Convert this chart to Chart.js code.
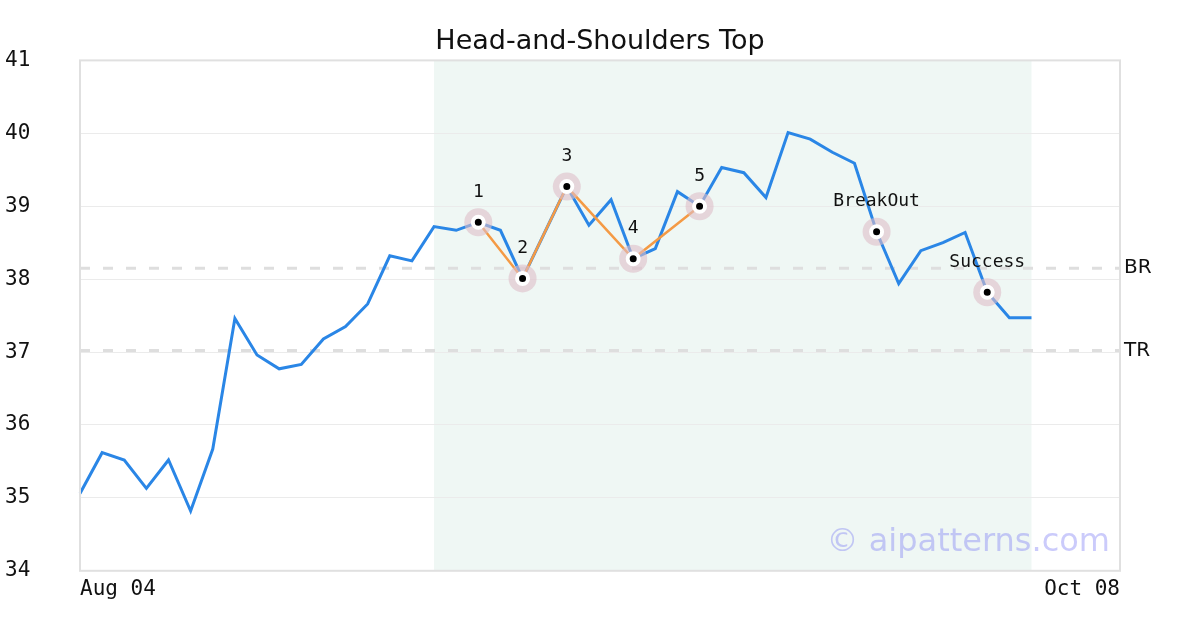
<!DOCTYPE html>
<html>
<head>
<meta charset="utf-8">
<script src="https://cdn.jsdelivr.net/npm/chart.js@4.4.1/dist/chart.umd.min.js"></script>
<style>
  html, body { margin: 0; padding: 0; background: #ffffff; }
  #wrap { width: 1200px; height: 630px; }
</style>
</head>
<body>
<div id="wrap"><canvas id="c" width="1200" height="630"></canvas></div>
<script>
// ---- data ----
const dates = [
  'Aug 04','Aug 05','Aug 06','Aug 07','Aug 08','Aug 11','Aug 12','Aug 13','Aug 14','Aug 15',
  'Aug 18','Aug 19','Aug 20','Aug 21','Aug 22','Aug 25','Aug 26','Aug 27','Aug 28','Aug 29',
  'Sep 01','Sep 02','Sep 03','Sep 04','Sep 05','Sep 08','Sep 09','Sep 10','Sep 11','Sep 12',
  'Sep 15','Sep 16','Sep 17','Sep 18','Sep 19','Sep 22','Sep 23','Sep 24','Sep 25','Sep 26',
  'Sep 29','Sep 30','Oct 01','Oct 02','Oct 03','Oct 06','Oct 07','Oct 08'
];
const prices = [
  35.06, 35.62, 35.52, 35.13, 35.52, 34.82, 35.67, 37.46, 36.96, 36.77,
  36.83, 37.18, 37.35, 37.66, 38.32, 38.25, 38.72, 38.67, 38.78, 38.67,
  38.01, 38.64, 39.27, 38.74, 39.09, 38.28, 38.42, 39.20, 39.00, 39.53,
  39.46, 39.12, 40.01, 39.92, 39.74, 39.59, 38.65, 37.94, 38.39, 38.50,
  38.64, 37.82, 37.47, 37.47
];
const patternIdx = [18, 20, 22, 25, 28];
const patternNames = ['1', '2', '3', '4', '5'];
const eventIdx = [36, 41];
const eventNames = ['BreakOut', 'Success'];
const levelNames = ['BR', 'TR'];
const levelValues = [38.15, 37.02];
const zoneRange = [16, 43];
const yTicks = [34, 35, 36, 37, 38, 39, 40, 41];
const titleText = 'Head-and-Shoulders Top';
const watermark = '\u00a9 aipatterns.com';

// ---- derived series ----
const patternSeries = dates.map((d, i) => patternIdx.indexOf(i) >= 0 ? prices[i] : null);
const markIdx = patternIdx.concat(eventIdx);
const markNames = patternNames.concat(eventNames);
const markSeries = dates.map((d, i) => markIdx.indexOf(i) >= 0 ? prices[i] : null);
const levelSeries = levelValues.map(v => dates.map(() => v));

const MONO = "'DejaVu Sans Mono', monospace";
const SANS = "'DejaVu Sans', sans-serif";

const zonePlugin = {
  id: 'zone',
  beforeDraw(chart) {
    const { ctx, chartArea: a, scales: { x } } = chart;
    const x0 = x.getPixelForValue(zoneRange[0]);
    const x1 = x.getPixelForValue(zoneRange[1]);
    ctx.save();
    ctx.fillStyle = '#eff7f4';
    ctx.fillRect(x0, a.top, x1 - x0, a.bottom - a.top);
    ctx.restore();
  }
};

const decorPlugin = {
  id: 'decor',
  afterDatasetsDraw(chart) {
    const { ctx, chartArea: a, scales: { x, y } } = chart;
    ctx.save();
    // frame
    ctx.strokeStyle = '#e0e0e0';
    ctx.lineWidth = 2;
    ctx.strokeRect(a.left, a.top, a.right - a.left, a.bottom - a.top);
    // level labels
    ctx.fillStyle = '#111';
    ctx.font = '20px ' + SANS;
    ctx.textAlign = 'left';
    ctx.textBaseline = 'middle';
    levelNames.forEach((n, i) => {
      ctx.fillText(n, a.right + 4, y.getPixelForValue(levelValues[i]));
    });
    // marker labels
    ctx.font = '18px ' + MONO;
    ctx.textAlign = 'center';
    markIdx.forEach((idx, i) => {
      const px = x.getPixelForValue(idx);
      const py = y.getPixelForValue(prices[idx]);
      ctx.fillText(markNames[i], px, py - 30);
    });
    // watermark
    ctx.font = '32px ' + SANS;
    ctx.fillStyle = 'rgba(110,110,245,0.36)';
    ctx.textAlign = 'right';
    ctx.textBaseline = 'middle';
    ctx.fillText(watermark, a.right - 10, a.bottom - 28);
    ctx.restore();
  }
};

new Chart(document.getElementById('c'), {
  type: 'line',
  data: {
    labels: dates,
    datasets: [
      {
        label: 'price', data: prices, borderColor: '#2a86e6', borderWidth: 3,
        pointRadius: 0, tension: 0, fill: false, order: 3
      },
      {
        label: 'pattern', data: patternSeries, borderColor: '#f49a45', borderWidth: 2.5,
        pointRadius: 0, spanGaps: true, tension: 0, fill: false, order: 2
      },
      {
        label: 'halo', data: markSeries, showLine: false, pointRadius: 14,
        pointBackgroundColor: 'rgba(222,190,200,0.6)', pointBorderWidth: 0,
        pointHoverRadius: 14, order: 1
      },
      {
        label: 'dot', data: markSeries, showLine: false, pointRadius: 5.5,
        pointBackgroundColor: '#000', pointBorderColor: '#fff', pointBorderWidth: 4,
        order: 0
      },
      {
        label: levelNames[0], data: levelSeries[0], borderColor: '#dedede', borderWidth: 3,
        borderDash: [10, 13], pointRadius: 0, fill: false, order: 5
      },
      {
        label: levelNames[1], data: levelSeries[1], borderColor: '#dedede', borderWidth: 3,
        borderDash: [10, 13], pointRadius: 0, fill: false, order: 5
      }
    ]
  },
  options: {
    responsive: false,
    animation: false,
    devicePixelRatio: 1,
    layout: { padding: { left: 5, right: 5, top: 0, bottom: 22 } },
    plugins: {
      legend: { display: false },
      tooltip: { enabled: false },
      title: {
        display: true, text: titleText, color: '#111',
        font: { family: SANS, size: 27, weight: 'normal' },
        padding: { top: 26, bottom: 2 }
      }
    },
    scales: {
      x: {
        type: 'category',
        offset: false,
        grid: { display: false, drawTicks: false },
        border: { display: false },
        ticks: {
          autoSkip: false, maxRotation: 0, minRotation: 0, align: 'inner', padding: 6,
          color: '#111', font: { family: MONO, size: 21 },
          callback: function (v, i) {
            return (i === 0 || i === dates.length - 1) ? dates[i] : '';
          }
        }
      },
      y: {
        min: yTicks[0], max: yTicks[yTicks.length - 1],
        afterBuildTicks: (s) => { s.ticks = yTicks.map(v => ({ value: v })); },
        afterFit: (s) => { s.width = 75; },
        grid: { color: '#ebebeb', lineWidth: 1, drawTicks: false },
        border: { display: false },
        ticks: {
          color: '#111', font: { family: MONO, size: 21 }, crossAlign: 'far', padding: 0
        }
      },
      yr: {
        position: 'right',
        min: yTicks[0], max: yTicks[yTicks.length - 1],
        afterFit: (s) => { s.width = 75; },
        grid: { display: false, drawTicks: false },
        border: { display: false },
        ticks: { display: false }
      }
    }
  },
  plugins: [zonePlugin, decorPlugin]
});
</script>
</body>
</html>
